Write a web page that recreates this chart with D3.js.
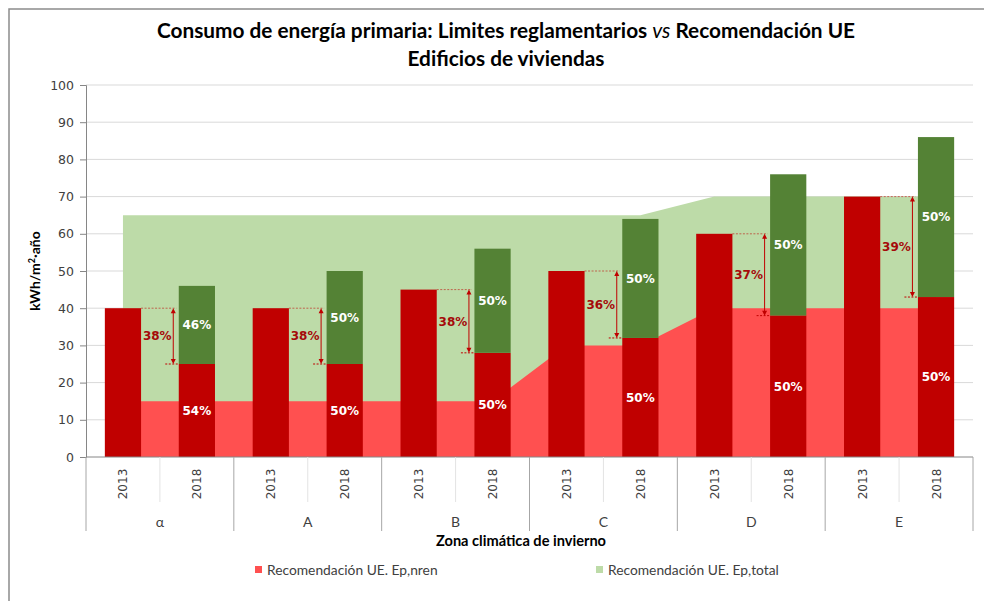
<!DOCTYPE html>
<html>
<head>
<meta charset="utf-8">
<script src="https://cdn.jsdelivr.net/npm/d3@7.9.0/dist/d3.min.js"></script>
<style>
  body { margin: 0; background: #fff; }
  svg { display: block; }
</style>
</head>
<body>
<svg id="chart" width="984" height="601"></svg>
<script>
// ---- data ----
const zones = ["α", "A", "B", "C", "D", "E"];
const years = ["2013", "2018"];
const limit2013 = [40, 40, 45, 50, 60, 70];       // limite reglamentario 2013
const nren2018 = [25, 25, 28, 32, 38, 43];        // 2018, parte no renovable
const total2018 = [46, 50, 56, 64, 76, 86];       // 2018, consumo total
const ueNren = [15, 15, 15, 15, 15, 15, 30, 30, 40, 40, 40, 40];
const ueTotal = [65, 65, 65, 65, 65, 65, 65, 65, 70, 70, 70, 70];
const yTicks = [0, 10, 20, 30, 40, 50, 60, 70, 80, 90, 100];

const svg = d3.select("#chart");
const calibri = "Lato, 'Open Sans', sans-serif";
const verdana = "'DejaVu Sans', sans-serif";

const plot = { left: 86, right: 973, top: 85, bottom: 457 };

// keys for the 12 categories
const keys = [];
zones.forEach(z => years.forEach(y => keys.push(z + "|" + y)));

const x = d3.scaleBand().domain(keys).range([plot.left, plot.right]).padding(0);
const y = d3.scaleLinear().domain([0, 100]).range([plot.bottom, plot.top]);
const bw = x.bandwidth() * 0.49;
const cx = k => x(k) + x.bandwidth() / 2;

// outer frame (top + left only)
svg.append("path")
    .attr("d", "M9,601 V9 H984")
    .attr("fill", "none")
    .attr("stroke", "#8c8c8c")
    .attr("stroke-width", 1.5);

// title
const title = svg.append("text")
    .attr("x", 506).attr("y", 38)
    .attr("text-anchor", "middle")
    .attr("font-family", calibri)
    .attr("font-weight", "bold")
    .attr("font-size", 20.8)
    .attr("fill", "#000");
title.append("tspan").text("Consumo de energía primaria: Limites reglamentarios ");
title.append("tspan").attr("font-style", "italic").attr("font-weight", "normal").text("vs");
title.append("tspan").text(" Recomendación UE");
svg.append("text")
    .attr("x", 506).attr("y", 66)
    .attr("text-anchor", "middle")
    .attr("font-family", calibri)
    .attr("font-weight", "bold")
    .attr("font-size", 20.8)
    .text("Edificios de viviendas");

// gridlines
svg.append("g")
    .selectAll("line")
    .data(yTicks.filter(d => d > 0))
    .join("line")
    .attr("x1", plot.left).attr("x2", plot.right)
    .attr("y1", d => y(d)).attr("y2", d => y(d))
    .attr("stroke", "#d9d9d9");

// areas (UE recommendation)
const area = vals => d3.area()
    .x((d, i) => cx(keys[i]))
    .y0(y(0))
    .y1(d => y(d))(vals);

svg.append("path").attr("d", area(ueTotal)).attr("fill", "#bddba8");
svg.append("path").attr("d", area(ueNren)).attr("fill", "#ff5050");

// bars
const bars = svg.append("g");
zones.forEach((z, i) => {
    const k13 = z + "|2013", k18 = z + "|2018";
    bars.append("rect")
        .attr("x", cx(k13) - bw / 2).attr("width", bw)
        .attr("y", y(limit2013[i])).attr("height", y(0) - y(limit2013[i]))
        .attr("fill", "#c00000");
    // 2018 stacked
    bars.append("rect")
        .attr("x", cx(k18) - bw / 2).attr("width", bw)
        .attr("y", y(nren2018[i])).attr("height", y(0) - y(nren2018[i]))
        .attr("fill", "#c00000");
    bars.append("rect")
        .attr("x", cx(k18) - bw / 2).attr("width", bw)
        .attr("y", y(total2018[i])).attr("height", y(nren2018[i]) - y(total2018[i]))
        .attr("fill", "#548235");

    const pctRen = Math.round((1 - nren2018[i] / total2018[i]) * 100);
    const pctNren = 100 - pctRen;
    bars.append("text")
        .attr("x", cx(k18)).attr("y", y((nren2018[i] + total2018[i]) / 2))
        .attr("dy", "0.36em")
        .attr("text-anchor", "middle")
        .attr("font-family", verdana).attr("font-weight", "bold").attr("font-size", 12)
        .attr("fill", "#fff")
        .text(pctRen + "%");
    bars.append("text")
        .attr("x", cx(k18)).attr("y", y(nren2018[i] / 2))
        .attr("dy", "0.36em")
        .attr("text-anchor", "middle")
        .attr("font-family", verdana).attr("font-weight", "bold").attr("font-size", 12)
        .attr("fill", "#fff")
        .text(pctNren + "%");

    // reduction annotation
    const ax = cx(k18) - bw / 2 - 5.5;
    const yTop = y(limit2013[i]), yBot = y(nren2018[i]);
    bars.append("line")
        .attr("x1", cx(k13) + bw / 2).attr("x2", ax + 3)
        .attr("y1", yTop).attr("y2", yTop)
        .attr("stroke", "#c00000").attr("stroke-opacity", 0.55)
        .attr("stroke-dasharray", "2,1.5");
    bars.append("line")
        .attr("x1", ax - 8).attr("x2", cx(k18) - bw / 2)
        .attr("y1", yBot).attr("y2", yBot)
        .attr("stroke", "#c00000")
        .attr("stroke-dasharray", "2,1.5");
    bars.append("line")
        .attr("x1", ax).attr("x2", ax)
        .attr("y1", yTop + 3).attr("y2", yBot - 3)
        .attr("stroke", "#c00000").attr("stroke-width", 1);
    bars.append("path")
        .attr("d", `M${ax},${yTop} l-2.5,5 h5 Z M${ax},${yBot} l-2.5,-5 h5 Z`)
        .attr("fill", "#c00000");
    const red = Math.round((1 - nren2018[i] / limit2013[i]) * 100);
    bars.append("text")
        .attr("x", ax - 16).attr("y", (yTop + yBot) / 2)
        .attr("dy", "0.36em")
        .attr("text-anchor", "middle")
        .attr("font-family", verdana).attr("font-weight", "bold").attr("font-size", 12)
        .attr("fill", "#a50a0a")
        .text(red + "%");
});

// y axis
const yAxis = svg.append("g")
    .attr("transform", `translate(${plot.left},0)`)
    .call(d3.axisLeft(y).tickValues(yTicks).tickSize(6).tickPadding(6));
yAxis.select(".domain").attr("stroke", "#868686");
yAxis.selectAll(".tick line").attr("stroke", "#868686");
yAxis.selectAll(".tick text")
    .attr("font-family", verdana).attr("font-size", 12.5).attr("fill", "#404040");

svg.append("text")
    .attr("transform", `translate(40,${(plot.top + plot.bottom) / 2}) rotate(-90)`)
    .attr("text-anchor", "middle")
    .attr("font-family", calibri).attr("font-weight", "bold").attr("font-size", 14)
    .attr("fill", "#000")
    .html("kWh/m<tspan baseline-shift='super' font-size='9'>2</tspan>·año");

// x axis (two-level)
const xa = svg.append("g");
xa.append("line")
    .attr("x1", plot.left).attr("x2", plot.right)
    .attr("y1", plot.bottom).attr("y2", plot.bottom)
    .attr("stroke", "#868686");
// group separators
const groupEdges = zones.map(z => x(z + "|2013")).concat([plot.right]);
xa.selectAll(".gsep").data(groupEdges).join("line")
    .attr("x1", d => d).attr("x2", d => d)
    .attr("y1", plot.bottom).attr("y2", 531)
    .attr("stroke", "#a6a6a6");
// inner separators
xa.selectAll(".isep").data(zones).join("line")
    .attr("x1", z => x(z + "|2018")).attr("x2", z => x(z + "|2018"))
    .attr("y1", plot.bottom).attr("y2", 502)
    .attr("stroke", "#e3e3e3");
// year labels
xa.selectAll(".yr").data(keys).join("text")
    .attr("transform", k => `translate(${cx(k) + 4.5},484) rotate(-90)`)
    .attr("text-anchor", "middle")
    .attr("font-family", verdana).attr("font-size", 12).attr("fill", "#404040")
    .text(k => k.split("|")[1]);
// zone labels
xa.selectAll(".zn").data(zones).join("text")
    .attr("x", z => x(z + "|2013") + x.bandwidth())
    .attr("y", 527)
    .attr("text-anchor", "middle")
    .attr("font-family", calibri).attr("font-size", 14).attr("fill", "#404040")
    .text(z => z);

svg.append("text")
    .attr("x", 521).attr("y", 546)
    .attr("text-anchor", "middle")
    .attr("font-family", calibri).attr("font-weight", "bold").attr("font-size", 14.6)
    .attr("fill", "#000")
    .text("Zona climática de invierno");

// legend
const legendItems = [
    { label: "Recomendación UE. Ep,nren", color: "#ff5050", x: 255 },
    { label: "Recomendación UE. Ep,total", color: "#bddba8", x: 596 }
];
const lg = svg.append("g");
legendItems.forEach(d => {
    lg.append("rect")
        .attr("x", d.x).attr("y", 566).attr("width", 7).attr("height", 7)
        .attr("fill", d.color);
    lg.append("text")
        .attr("x", d.x + 12).attr("y", 575)
        .attr("font-family", calibri).attr("font-size", 13.8).attr("fill", "#404040")
        .text(d.label);
});
</script>
</body>
</html>
